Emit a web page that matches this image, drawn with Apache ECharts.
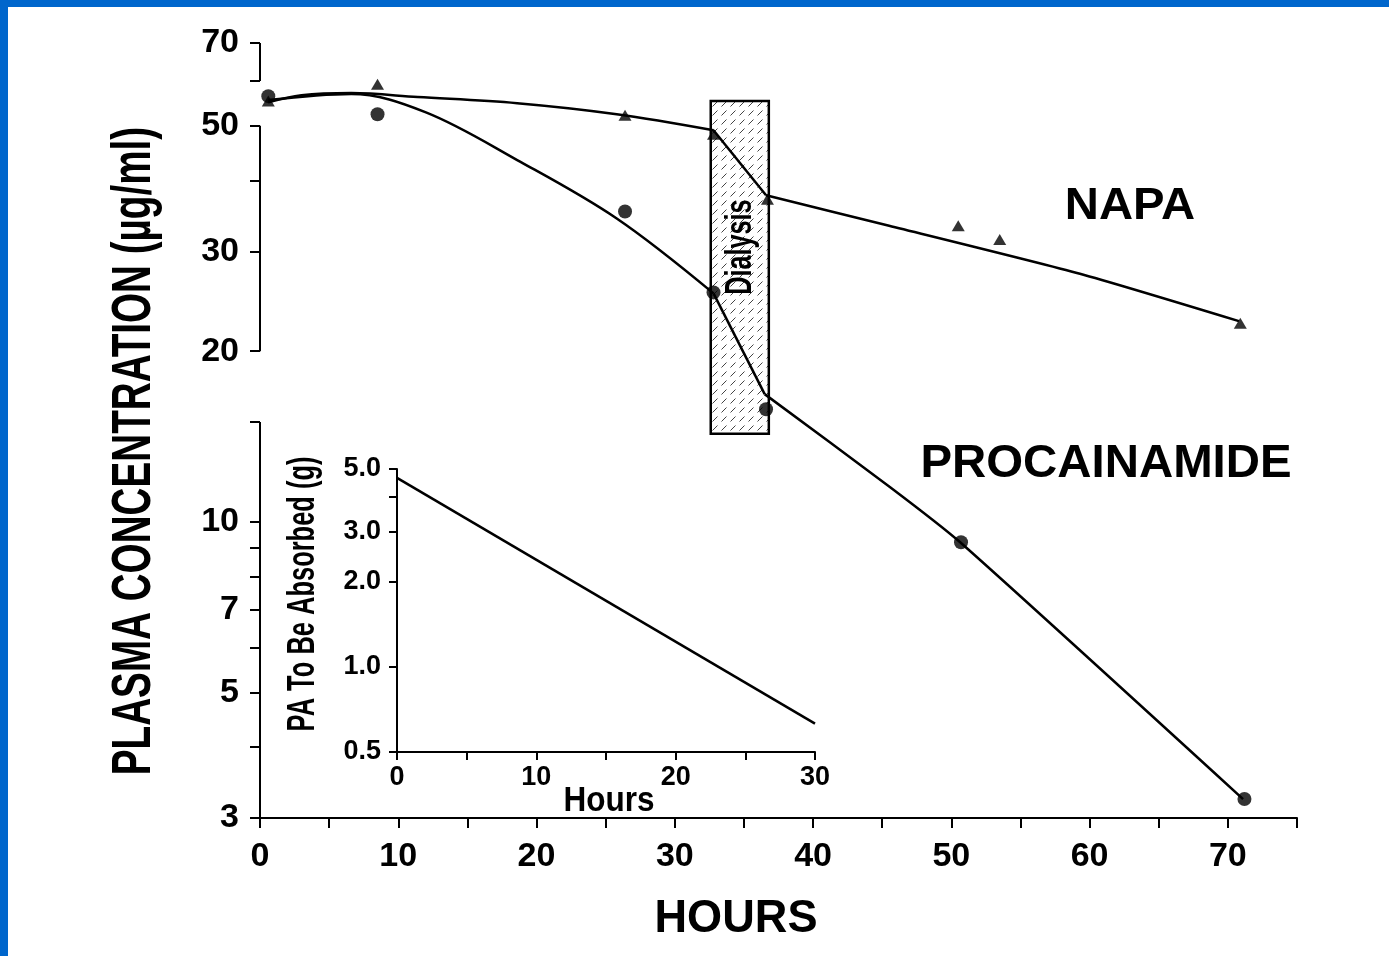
<!DOCTYPE html>
<html>
<head>
<meta charset="utf-8">
<script src="https://cdn.jsdelivr.net/npm/echarts@6/dist/echarts.min.js"></script>
<style>
  html, body { margin: 0; padding: 0; background: #fff; }
  #chart { width: 1389px; height: 956px; }
</style>
</head>
<body>
<div id="chart"></div>
<script>
// ---- Measured plasma levels (µg/ml) against hours ----
const procHours  = [0.6, 8.5, 26.4, 32.8, 36.6, 50.7, 71.2];
const procLevels = [56.4, 52.4, 35.3, 25.4, 15.8, 9.2, 3.24];
const napaHours  = [0.6, 8.5, 26.4, 32.8, 36.7, 50.5, 53.5, 70.9];
const napaLevels = [55.3, 59.2, 52.2, 48.3, 37.1, 33.3, 31.5, 22.4];

// ---- Fitted curves, split at the start and end of dialysis ----
const procFitBefore = [[0.6, 55.5], [6.6, 56.9], [12, 52.8], [18.6, 43.5], [25.8, 34.3], [32.8, 25.3]];
const procFitDuring = [[32.8, 25.3], [36.5, 16.8]];
const procFitAfter  = [[36.5, 16.8], [45.6, 11.5], [50.6, 9.22], [71.1, 3.24]];
const napaFitBefore = [[0.6, 55.0], [3, 56.6], [6.6, 57.1], [11.4, 56.2], [18.6, 54.8], [25.8, 52.4], [32.8, 49.1]];
const napaFitDuring = [[32.8, 49.1], [36.6, 37.7]];
const napaFitAfter  = [[36.6, 37.7], [45.5, 33.3], [59.3, 27.4], [70.8, 22.6]];

// ---- Dialysis period (hours) and the level range its box spans ----
const dialysisHours = [32.6, 36.8];
const dialysisLevels = [55.3, 14.3];

// ---- Inset: procainamide still to be absorbed (g) ----
const insetHours = [0, 30];
const insetGrams = [4.65, 0.63];

// ---- Axis ticks and labels ----
const mainYLabels = [3, 5, 7, 10, 20, 30, 50, 70];
const mainYTicks  = [3, 4, 5, 6, 7, 8, 9, 10, 15, 20, 30, 40, 50, 60, 70];
const mainYAxisSegments = [[70, 60], [50, 20], [15, 3]];
const insetYLabels = [0.5, 1, 2, 3, 5];
const insetYTicks  = [0.5, 1, 2, 3, 4, 5];

const FONT = 'Liberation Sans';
const INK = '#000';

function zip(xs, ys) { return xs.map((x, i) => [x, ys[i]]); }

// vertical axis line drawn in pieces, with breaks between them
function segmentsData(segs) {
  const out = [];
  segs.forEach((s, i) => {
    if (i > 0) out.push([0, '-']);
    out.push([0, s[0]], [0, s[1]]);
  });
  return out;
}

// small diagonal dash tile for the dialysis box
function hatchTile() {
  const c = document.createElement('canvas');
  c.width = 9; c.height = 9;
  const g = c.getContext('2d');
  g.strokeStyle = '#444';
  g.lineWidth = 1;
  g.beginPath();
  g.moveTo(1.5, 7.5);
  g.lineTo(6.5, 2.5);
  g.stroke();
  return c;
}

function fitLine(data, smooth) {
  return {
    type: 'line', xAxisIndex: 0, yAxisIndex: 0, data: data,
    smooth: smooth, showSymbol: false, symbol: 'none', z: 3,
    lineStyle: { color: INK, width: 2.5 }, silent: true
  };
}

const tickStyle = { color: INK, width: 2 };
const labelBase = { color: INK, fontFamily: FONT, fontWeight: 'bold' };

const chart = echarts.init(document.getElementById('chart'), null, { renderer: 'canvas' });

const option = {
  backgroundColor: '#fff',
  animation: false,
  grid: [
    { left: 260, right: 92, top: 43, bottom: 138 },
    { left: 397, top: 469, width: 418, height: 283 }
  ],
  xAxis: [
    {
      gridIndex: 0, type: 'value', min: 0, max: 75, interval: 5,
      axisLine: { onZero: false, lineStyle: { color: INK, width: 2 } },
      axisTick: { length: 10, lineStyle: tickStyle },
      axisLabel: Object.assign({ fontSize: 34, margin: 22,
        formatter: v => (v % 10 === 0 ? String(v) : '') }, labelBase),
      splitLine: { show: false }
    },
    {
      gridIndex: 1, type: 'value', min: 0, max: 30, interval: 5,
      axisLine: { onZero: false, lineStyle: { color: INK, width: 2 } },
      axisTick: { length: 8, lineStyle: tickStyle },
      axisLabel: Object.assign({ fontSize: 27, margin: 12,
        formatter: v => (v % 10 === 0 ? String(v) : '') }, labelBase),
      splitLine: { show: false }
    }
  ],
  yAxis: [
    {
      gridIndex: 0, type: 'log', logBase: 10, min: 3, max: 70,
      axisLine: { show: false },
      axisTick: { show: true, length: 10, customValues: mainYTicks, lineStyle: tickStyle },
      axisLabel: Object.assign({ fontSize: 34, margin: 21, customValues: mainYLabels,
        formatter: v => String(Math.round(v)) }, labelBase),
      splitLine: { show: false }
    },
    {
      gridIndex: 1, type: 'log', logBase: 10, min: 0.5, max: 5,
      axisLine: { show: true, onZero: false, lineStyle: { color: INK, width: 2 } },
      axisTick: { show: true, length: 8, customValues: insetYTicks, lineStyle: tickStyle },
      axisLabel: Object.assign({ fontSize: 27, margin: 16, customValues: insetYLabels,
        formatter: v => Number(v).toFixed(1) }, labelBase),
      splitLine: { show: false }
    }
  ],
  series: [
    // main vertical axis line in three pieces; also carries the dialysis box
    {
      type: 'line', xAxisIndex: 0, yAxisIndex: 0, z: 1, clip: false,
      data: segmentsData(mainYAxisSegments), connectNulls: false,
      showSymbol: false, symbol: 'none', silent: true,
      lineStyle: { color: INK, width: 2 },
      markArea: {
        silent: true,
        itemStyle: {
          color: { image: hatchTile(), repeat: 'repeat' },
          borderColor: INK, borderWidth: 2.5
        },
        data: [[
          { xAxis: dialysisHours[0], yAxis: dialysisLevels[0] },
          { xAxis: dialysisHours[1], yAxis: dialysisLevels[1] }
        ]]
      }
    },
    fitLine(procFitBefore, 0.35),
    fitLine(procFitDuring, false),
    fitLine(procFitAfter, 0.2),
    fitLine(napaFitBefore, 0.35),
    fitLine(napaFitDuring, false),
    fitLine(napaFitAfter, 0.2),
    {
      name: 'PROCAINAMIDE', type: 'scatter', xAxisIndex: 0, yAxisIndex: 0, z: 4,
      data: zip(procHours, procLevels), symbol: 'circle', symbolSize: 14,
      itemStyle: { color: INK }
    },
    {
      name: 'NAPA', type: 'scatter', xAxisIndex: 0, yAxisIndex: 0, z: 4,
      data: zip(napaHours, napaLevels), symbol: 'triangle', symbolSize: [13, 11],
      itemStyle: { color: INK }
    },
    {
      type: 'line', xAxisIndex: 1, yAxisIndex: 1, z: 3,
      data: zip(insetHours, insetGrams), showSymbol: false, symbol: 'none',
      lineStyle: { color: INK, width: 2.5 }, silent: true
    }
  ],
  graphic: [
    // blue frame along the top and left edges
    { type: 'rect', shape: { x: 0, y: 0, width: 1389, height: 7 }, style: { fill: '#0066CC' }, z: 100 },
    { type: 'rect', shape: { x: 0, y: 0, width: 8, height: 956 }, style: { fill: '#0066CC' }, z: 100 },
    {
      type: 'text', x: 135, y: 451, rotation: Math.PI / 2, scaleX: 0.69, z: 50,
      style: { text: 'PLASMA CONCENTRATION (µg/ml)', x: 0, y: 0, align: 'center', verticalAlign: 'middle',
        fill: INK, font: 'bold 56px "' + FONT + '"' }
    },
    {
      type: 'text', x: 736, y: 919, scaleX: 0.96, z: 50,
      style: { text: 'HOURS', x: 0, y: 0, align: 'center', verticalAlign: 'middle',
        fill: INK, font: 'bold 47px "' + FONT + '"' }
    },
    {
      type: 'text', x: 1130, y: 207, scaleX: 1.05, z: 50,
      style: { text: 'NAPA', x: 0, y: 0, align: 'center', verticalAlign: 'middle',
        fill: INK, font: 'bold 45px "' + FONT + '"' }
    },
    {
      type: 'text', x: 1106, y: 464, scaleX: 1.03, z: 50,
      style: { text: 'PROCAINAMIDE', x: 0, y: 0, align: 'center', verticalAlign: 'middle',
        fill: INK, font: 'bold 46px "' + FONT + '"' }
    },
    {
      type: 'text', x: 741, y: 247, rotation: Math.PI / 2, scaleX: 0.7, z: 50,
      style: { text: 'Dialysis', x: 0, y: 0, align: 'center', verticalAlign: 'middle',
        fill: INK, font: 'bold 36px "' + FONT + '"' }
    },
    {
      type: 'text', x: 304, y: 594, rotation: Math.PI / 2, scaleX: 0.67, z: 50,
      style: { text: 'PA To Be Absorbed (g)', x: 0, y: 0, align: 'center', verticalAlign: 'middle',
        fill: INK, font: 'bold 38px "' + FONT + '"' }
    },
    {
      type: 'text', x: 609, y: 801, scaleX: 0.9, z: 50,
      style: { text: 'Hours', x: 0, y: 0, align: 'center', verticalAlign: 'middle',
        fill: INK, font: 'bold 35px "' + FONT + '"' }
    }
  ]
};

chart.setOption(option);
</script>
</body>
</html>
